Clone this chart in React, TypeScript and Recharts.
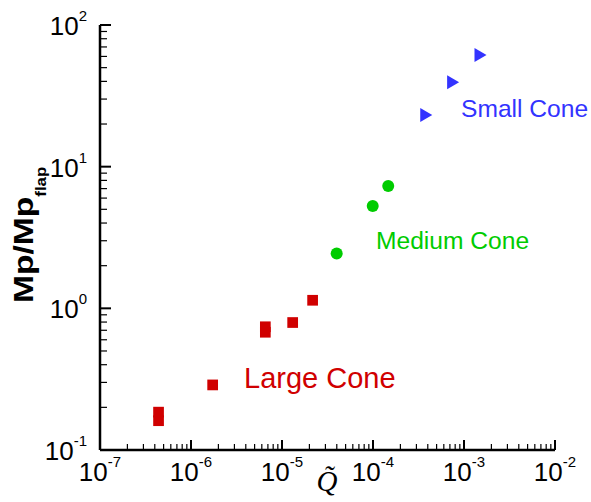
import React from 'react';
import { ScatterChart, Scatter, XAxis, YAxis } from 'recharts';

const FONT = '"Liberation Sans", Arial, Helvetica, sans-serif';

// Data (log-log)
const largeCone = [
  { x: 4.4e-7, y: 0.185 },
  { x: 4.4e-7, y: 0.161 },
  { x: 1.73e-6, y: 0.288 },
  { x: 6.56e-6, y: 0.741 },
  { x: 6.56e-6, y: 0.678 },
  { x: 1.31e-5, y: 0.794 },
  { x: 2.17e-5, y: 1.14 },
];
const mediumCone = [
  { x: 3.99e-5, y: 2.44 },
  { x: 9.93e-5, y: 5.27 },
  { x: 1.47e-4, y: 7.3 },
];
const smallCone = [
  { x: 3.8e-4, y: 23.2 },
  { x: 7.5e-4, y: 39.4 },
  { x: 1.5e-3, y: 61.4 },
];

// Tick definitions
const xDecades = [-7, -6, -5, -4, -3, -2];
const yDecades = [-1, 0, 1, 2];
const minorMultipliers = [2, 3, 4, 5, 6, 7, 8, 9];

const buildTicks = (decades: number[]) => {
  const t: number[] = [];
  decades.forEach((d, i) => {
    t.push(Math.pow(10, d));
    if (i < decades.length - 1) {
      minorMultipliers.forEach((m) => t.push(m * Math.pow(10, d)));
    }
  });
  return t;
};
const xTicks = buildTicks(xDecades);
const yTicks = buildTicks(yDecades);

const RED = '#d00000';
const GREEN = '#00cc00';
const BLUE = '#3333ff';

const isMajor = (v: number) => {
  const e = Math.log10(v);
  return Math.abs(e - Math.round(e)) < 1e-6;
};

const XTick = (props: any) => {
  const { x, y, payload } = props;
  const v = payload.value;
  const major = isMajor(v);
  const e = Math.round(Math.log10(v));
  return (
    <g>
      <line x1={x} x2={x} y1={y} y2={y - (major ? 10 : 6)} stroke="#000" strokeWidth={major ? 2 : 1.2} />
      {major && (
        <text x={x} y={y + 31} textAnchor="middle" fontFamily={FONT} fontSize={26} fill="#000">
          10<tspan dy={-14} fontSize={15}>{String(e)}</tspan>
        </text>
      )}
    </g>
  );
};

const YTick = (props: any) => {
  const { x, y, payload } = props;
  const v = payload.value;
  const major = isMajor(v);
  const e = Math.round(Math.log10(v));
  return (
    <g>
      <line x1={x} x2={x + (major ? 11 : 7)} y1={y} y2={y} stroke="#000" strokeWidth={major ? 2 : 1.2} />
      {major && (
        <text x={x - 13} y={y + 10} textAnchor="end" fontFamily={FONT} fontSize={26} fill="#000">
          10<tspan dy={-14} fontSize={15}>{String(e)}</tspan>
        </text>
      )}
    </g>
  );
};

const SquareShape = (props: any) => {
  const { cx, cy } = props;
  const s = 10.7;
  return <rect x={cx - s / 2} y={cy - s / 2} width={s} height={s} fill={RED} />;
};
const CircleShape = (props: any) => {
  const { cx, cy } = props;
  return <circle cx={cx} cy={cy} r={6} fill={GREEN} />;
};
const TriangleShape = (props: any) => {
  const { cx, cy } = props;
  const pts = `${cx - 5.5},${cy - 7} ${cx + 6.5},${cy} ${cx - 5.5},${cy + 7}`;
  return <polygon points={pts} fill={BLUE} />;
};

export default function App() {
  return (
    <div style={{ position: 'absolute', left: 0, top: 0, width: 591, height: 502, background: '#fff' }}>
      <ScatterChart width={591} height={502} margin={{ top: 25, right: 36, left: 0, bottom: 0 }}>
        <XAxis
          dataKey="x"
          type="number"
          scale="log"
          domain={[1e-7, 1e-2]}
          allowDataOverflow
          ticks={xTicks}
          interval={0}
          tickLine={false}
          tickSize={0}
          tickMargin={0}
          height={52}
          axisLine={{ stroke: '#000', strokeWidth: 2.5 }}
          tick={<XTick />}
        />
        <YAxis
          dataKey="y"
          type="number"
          scale="log"
          domain={[0.1, 100]}
          allowDataOverflow
          ticks={yTicks}
          interval={0}
          tickLine={false}
          tickSize={0}
          tickMargin={0}
          width={100}
          axisLine={{ stroke: '#000', strokeWidth: 2.5 }}
          tick={<YTick />}
        />
        <Scatter data={largeCone} shape={<SquareShape />} isAnimationActive={false} />
        <Scatter data={mediumCone} shape={<CircleShape />} isAnimationActive={false} />
        <Scatter data={smallCone} shape={<TriangleShape />} isAnimationActive={false} />
      </ScatterChart>
      <svg
        width={591}
        height={502}
        style={{ position: 'absolute', left: 0, top: 0, pointerEvents: 'none' }}
      >
        <text x={244} y={388} fontFamily={FONT} fontSize={29} fill={RED}>Large Cone</text>
        <text x={376} y={249} fontFamily={FONT} fontSize={24.6} fill={GREEN}>Medium Cone</text>
        <text x={461} y={116.5} fontFamily={FONT} fontSize={24.6} fill={BLUE}>Small Cone</text>
        <g transform="translate(33,303) rotate(-90) scale(1.2,1)">
          <text x={0} y={0} fontFamily={FONT} fontSize={28} fontWeight="bold" fill="#000">
            Mp/Mp<tspan dy={13} fontSize={14}>flap</tspan>
          </text>
        </g>
        <text x={327} y={491} textAnchor="middle" fontFamily='"Liberation Serif", "Times New Roman", serif' fontStyle="italic" fontSize={29} fill="#000">
          {'Q\u0303'}
        </text>
      </svg>
    </div>
  );
}
